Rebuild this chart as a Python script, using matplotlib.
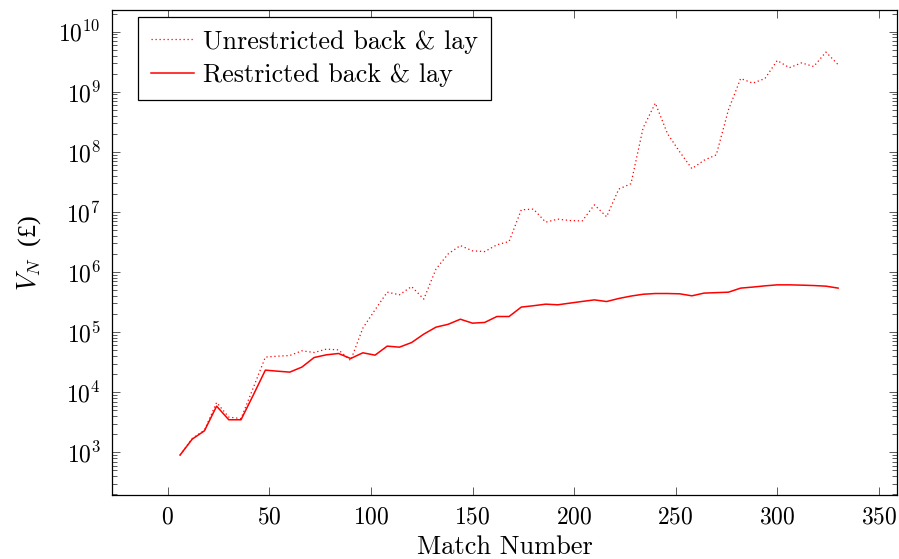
import numpy as np
import matplotlib.pyplot as plt
from matplotlib.ticker import LogLocator, NullLocator, FixedLocator

plt.rcParams['font.family'] = ['cmr10', 'DejaVu Serif']
plt.rcParams['mathtext.fontset'] = 'cm'
plt.rcParams['axes.formatter.use_mathtext'] = True
plt.rcParams['axes.unicode_minus'] = False

match_no = [6, 12, 18, 24, 30, 36, 42, 48, 54, 60, 66, 72, 78, 84, 90, 96,
            102, 108, 114, 120, 126, 132, 138, 144, 150, 156, 162, 168, 174,
            180, 186, 192, 198, 204, 210, 216, 222, 228, 234, 240, 246, 252,
            258, 264, 270, 276, 282, 288, 294, 300, 306, 312, 318, 324, 330]

unrestricted = [900, 1700, 2340, 6750, 3850, 3650, 11750, 38400, 39800, 40800,
                48900, 45800, 52100, 50700, 33700, 116700, 235000, 463000,
                418000, 574000, 354000, 1.12e6, 2.0e6, 2.76e6, 2.25e6, 2.19e6,
                2.84e6, 3.22e6, 1.084e7, 1.114e7, 6.76e6, 7.59e6, 7.19e6,
                7.08e6, 1.312e7, 8.32e6, 2.4e7, 2.95e7, 2.51e8, 6.46e8, 2.0e8,
                1.0e8, 5.25e7, 7.24e7, 8.91e7, 5.0e8, 1.66e9, 1.39e9, 1.66e9,
                3.31e9, 2.51e9, 3.02e9, 2.63e9, 4.57e9, 2.82e9]

restricted = [900, 1660, 2280, 5870, 3480, 3480, 8900, 23300, 22400, 21600,
              26200, 37800, 41900, 44100, 36400, 45300, 41400, 58500, 56200,
              67100, 92700, 121000, 135000, 164000, 141000, 145000, 182000,
              182000, 261000, 275000, 292000, 285000, 304000, 324000, 344000,
              323000, 363000, 398000, 427000, 439000, 439000, 434000, 402000,
              446000, 454000, 462000, 540000, 562000, 589000, 612000, 612000,
              605000, 596000, 582000, 540000]

fig = plt.figure(figsize=(8.99, 5.59), dpi=100)
ax = fig.add_axes([0.1246, 0.1145, 0.8732, 0.8676])

ax.plot(match_no, unrestricted, color='red', lw=0.9, dashes=(1, 2.2),
        label='Unrestricted back & lay')
ax.plot(match_no, restricted, color='red', lw=1.1,
        label='Restricted back & lay')

ax.set_yscale('log')
ax.set_xlim(-27.5, 359)
ax.set_ylim(10 ** 2.29, 10 ** 10.36)

ax.xaxis.set_major_locator(FixedLocator([0, 50, 100, 150, 200, 250, 300, 350]))
ax.xaxis.set_minor_locator(NullLocator())
ax.yaxis.set_major_locator(LogLocator(base=10, numticks=20))
ax.yaxis.set_minor_locator(LogLocator(base=10, subs=np.arange(2, 10), numticks=20))

ax.tick_params(which='both', direction='in', top=True, right=True,
               labelsize=17, width=0.6, color='0.25')
ax.tick_params(which='major', length=6, pad=8)
ax.tick_params(which='minor', length=3.5)
for s in ax.spines.values():
    s.set_linewidth(0.9)

ax.set_xlabel('Match Number', fontsize=19, labelpad=5)
# pound sign taken from a serif face that has it; cmr10 maps it to another glyph
ax.set_ylabel(r'$V_N\;$ (£)', fontsize=19, labelpad=11,
              family=['Liberation Serif'])

leg = ax.legend(loc='upper left', bbox_to_anchor=(0.033, 0.986), fontsize=18.8,
                frameon=True, fancybox=False, framealpha=1, edgecolor='black',
                handlelength=1.65, handletextpad=0.35, borderpad=0.5,
                labelspacing=0.38, borderaxespad=0)
leg.get_frame().set_linewidth(0.9)

fig.savefig('out.png', dpi=100)
